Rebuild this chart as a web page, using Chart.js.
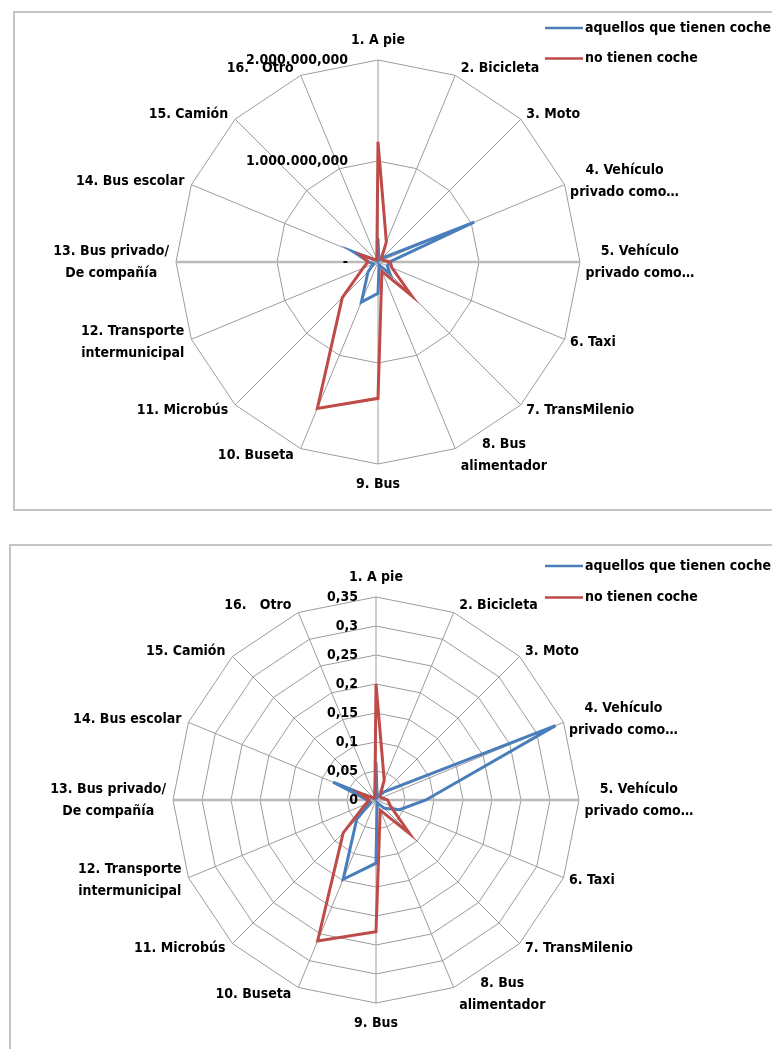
<!DOCTYPE html>
<html lang="es">
<head>
<meta charset="utf-8">
<title>Modos de transporte: con y sin coche</title>
<script src="https://cdn.jsdelivr.net/npm/chart.js@4.4.1/dist/chart.umd.min.js"></script>
<style>
  html, body { margin: 0; padding: 0; background: #ffffff; }
  body { width: 772px; height: 1049px; position: relative; overflow: hidden; }
  .frame { position: absolute; border: 2px solid #c4c4c4; box-sizing: border-box; background: #ffffff; }
  #frameTop { left: 13px; top: 11px; width: 800px; height: 500px; }
  #frameBottom { left: 9px; top: 544px; width: 800px; height: 560px; }
  canvas { position: absolute; left: 0; }
  #chartTotal { top: 0; }
  #chartShare { top: 540px; }
</style>
</head>
<body>
<div class="frame" id="frameTop"></div>
<div class="frame" id="frameBottom"></div>
<canvas id="chartTotal" width="772" height="520"></canvas>
<canvas id="chartShare" width="772" height="509"></canvas>
<script>
// Modes of transport (radar categories)
const categories = [
  '1. A pie', '2. Bicicleta', '3. Moto',
  ['4. Vehículo', 'privado como…'], ['5. Vehículo', 'privado como…'],
  '6. Taxi', '7. TransMilenio', ['8. Bus', 'alimentador'], '9. Bus',
  '10. Buseta', '11. Microbús', ['12. Transporte', 'intermunicipal'],
  ['13. Bus privado/', 'De compañía'], '14. Bus escolar', '15. Camión', '16.   Otro'
];
const seriesNames = ['aquellos que tienen coche', 'no tienen coche'];

// Totals per mode
const totalConCoche = [235e6, 20e6, 50e6, 1030e6, 115e6, 100e6, 170e6, 30e6, 310e6, 430e6, 140e6, 50e6, 90e6, 265e6, 20e6, 20e6];
const totalSinCoche = [1190e6, 216e6, 50e6, 50e6, 120e6, 150e6, 470e6, 100e6, 1350e6, 1570e6, 500e6, 160e6, 100e6, 190e6, 30e6, 30e6];
const totalTicks = ['-', '1.000.000,000', '2.000.000,000'];

// Shares per mode
const shareConCoche = [0.065, 0.005, 0.02, 0.335, 0.086, 0.044, 0.02, 0.005, 0.109, 0.148, 0.047, 0.01, 0.015, 0.08, 0.003, 0.005];
const shareSinCoche = [0.2, 0.037, 0.01, 0.01, 0.02, 0.027, 0.082, 0.019, 0.227, 0.263, 0.08, 0.02, 0.012, 0.03, 0.005, 0.005];
const shareTicks = ['0', '0,05', '0,1', '0,15', '0,2', '0,25', '0,3', '0,35'];

const BLUE = '#4a7ebb';
const RED = '#be4b48';

// Pick a condensed face if one is installed
function pickFont(cands) {
  const c = document.createElement('canvas').getContext('2d');
  const probe = 'privado como abcdefghijklmnopqrstuvwxyz 0123456789';
  for (const f of cands) {
    for (const base of ['monospace', 'serif']) {
      c.font = 'bold 40px ' + base;
      const w0 = c.measureText(probe).width;
      c.font = 'bold 40px "' + f + '", ' + base;
      const w1 = c.measureText(probe).width;
      if (Math.abs(w1 - w0) > 0.5) return f;
    }
  }
  return 'Liberation Sans';
}
const FACE = pickFont(['Liberation Sans Narrow', 'DejaVu Sans Condensed', 'Roboto', 'Liberation Sans']);
const FONT_STACK = '"' + FACE + '", "Liberation Sans", sans-serif';
const FONT_SIZE = (function () {
  const c = document.createElement('canvas').getContext('2d');
  c.font = 'bold 15px ' + FONT_STACK;
  const w = c.measureText('privado como…').width;
  return Math.max(11, Math.min(16, Math.round(15 * 112 / w)));
})();

// Axis text, tick labels and legend drawn around the radial scale
const radarText = {
  id: 'radarText',
  afterDraw(chart, args, o) {
    const s = chart.scales.r;
    const ctx = chart.ctx;
    const n = chart.data.labels.length;
    ctx.save();
    ctx.font = 'bold ' + FONT_SIZE + 'px ' + FONT_STACK;
    ctx.fillStyle = '#000000';
    ctx.textBaseline = 'middle';
    ctx.textAlign = 'center';
    const lh = o.lineHeight;

    chart.data.labels.forEach((lab, i) => {
      const lines = Array.isArray(lab) ? lab : [lab];
      const ang = 2 * Math.PI * i / n;
      const p = s.getPointPosition(i, s.drawingArea);
      const bw = Math.max(...lines.map(l => ctx.measureText(l).width));
      const bh = lines.length * lh;
      const sin = Math.sin(ang), cos = Math.cos(ang);
      let cx, cy;
      if (Math.abs(sin) < 0.01) {
        cx = p.x;
        cy = p.y - cos * o.vGap;
      } else if (sin > 0) {
        cx = p.x + o.hGapLeft + bw / 2;
        cy = p.y - o.vShift * cos;
      } else {
        cx = p.x - o.hGapRight - bw / 2;
        cy = p.y - o.vShift * cos;
      }
      lines.forEach((l, k) => ctx.fillText(l, cx, cy - bh / 2 + lh * (k + 0.5)));
    });

    // tick labels, right-aligned beside the vertical axis
    ctx.textAlign = 'right';
    s.ticks.forEach((t) => {
      const d = s.getDistanceFromCenterForValue(t.value);
      ctx.fillText(t.label, s.xCenter - o.tickOffset, s.yCenter - d);
    });

    // legend
    chart.data.datasets.forEach((ds, k) => {
      const y = o.legendY[k];
      ctx.strokeStyle = ds.borderColor;
      ctx.lineWidth = 2.5;
      ctx.beginPath();
      ctx.moveTo(o.legendX, y);
      ctx.lineTo(o.legendX + 38, y);
      ctx.stroke();
      ctx.textAlign = 'left';
      ctx.fillText(ds.label, o.legendX + 40, y);
    });
    ctx.restore();
  }
};

function makeRadar(id, conCoche, sinCoche, tickLabels, max, step, padding, textOpts) {
  return new Chart(document.getElementById(id), {
    type: 'radar',
    data: {
      labels: categories,
      datasets: [
        { label: seriesNames[0], data: conCoche, borderColor: BLUE, backgroundColor: 'transparent',
          borderWidth: 3, pointRadius: 0, fill: false, order: 1 },
        { label: seriesNames[1], data: sinCoche, borderColor: RED, backgroundColor: 'transparent',
          borderWidth: 3, pointRadius: 0, fill: false, order: 0 }
      ]
    },
    options: {
      responsive: false,
      animation: false,
      devicePixelRatio: 1,
      events: [],
      layout: { padding: padding },
      elements: { line: { tension: 0 } },
      plugins: {
        legend: { display: false },
        tooltip: { enabled: false },
        radarText: textOpts
      },
      scales: {
        r: {
          min: 0,
          max: max,
          beginAtZero: true,
          ticks: {
            display: false,
            stepSize: step,
            callback: (v, i) => tickLabels[i]
          },
          pointLabels: { display: false },
          grid: { color: '#9c9c9c', lineWidth: 1, circular: false },
          angleLines: {
            display: true,
            color: (ctx) => (ctx.index % 8 === 4 ? '#bababa' : '#9c9c9c'),
            lineWidth: (ctx) => (ctx.index % 8 === 4 ? 2.5 : 1)
          }
        }
      }
    },
    plugins: [radarText]
  });
}

makeRadar('chartTotal', totalConCoche, totalSinCoche, totalTicks, 2e9, 1e9,
  { left: 176, right: 192, top: 60, bottom: 56 },
  { lineHeight: 22, vGap: 20, vShift: 7.5, hGapLeft: 5.5, hGapRight: 7, tickOffset: 30,
    legendX: 545, legendY: [28, 58.5] });

makeRadar('chartShare', shareConCoche, shareSinCoche, shareTicks, 0.35, 0.05,
  { left: 173, right: 193, top: 57, bottom: 46 },
  { lineHeight: 22, vGap: 20, vShift: 7.5, hGapLeft: 5.5, hGapRight: 7, tickOffset: 18,
    legendX: 545, legendY: [26, 57.5] });
</script>
</body>
</html>
